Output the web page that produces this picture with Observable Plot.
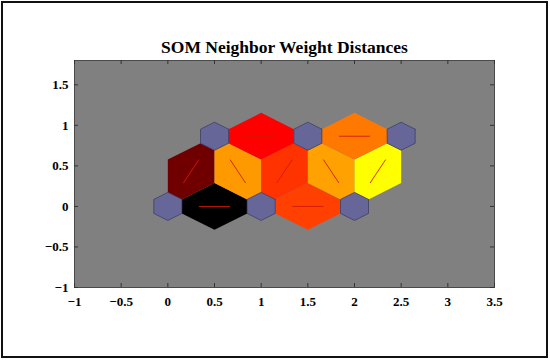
<!DOCTYPE html>
<html><head><meta charset="utf-8">
<script src="https://cdn.jsdelivr.net/npm/d3@7"></script>
<script src="https://cdn.jsdelivr.net/npm/@observablehq/plot@0.6"></script>
<style>
html,body{margin:0;padding:0;background:#fff;}
#wrap{position:relative;width:550px;height:360px;overflow:hidden;}
#wrap svg{display:block;}
#border{position:absolute;left:1px;top:1px;width:543px;height:353px;border:2px solid #111;pointer-events:none;}
</style></head><body>
<div id="wrap"></div>
<script>
// Neuron positions (hextop 3x2)
const neuronX = [0, 1, 2, 0.5, 1.5, 2.5];
const neuronY = [0, 0, 0, 0.866, 0.866, 0.866];
// Neighbor pairs and their (normalized) weight distances
const pairFrom = [0, 1, 0, 1, 1, 2, 2, 3, 4];
const pairTo   = [1, 2, 3, 3, 4, 4, 5, 4, 5];
const distances = [1.0, 0.375, 0.78, 0.2, 0.4, 0.185, 0.0, 0.5, 0.265];
const xTicks = [-1, -0.5, 0, 0.5, 1, 1.5, 2, 2.5, 3, 3.5];
const yTicks = [-1, -0.5, 0, 0.5, 1, 1.5];
const title = "SOM Neighbor Weight Distances";

const K = 0.3, R = 1 / Math.sqrt(3);
const cells = [], links = [], hexes = [];
pairFrom.forEach((a, i) => {
  const b = pairTo[i];
  const ax = neuronX[a], ay = neuronY[a], bx = neuronX[b], by = neuronY[b];
  const dx = bx - ax, dy = by - ay, L = Math.hypot(dx, dy);
  const ux = dx / L, uy = dy / L, px = -uy, py = ux;
  const mx = (ax + bx) / 2, my = (ay + by) / 2, h = L * R / 2;
  const v1 = [mx + px * h, my + py * h], v2 = [mx - px * h, my - py * h];
  const pts = [
    [ax + K * (v1[0] - ax), ay + K * (v1[1] - ay)], v1,
    [bx + K * (v1[0] - bx), by + K * (v1[1] - by)],
    [bx + K * (v2[0] - bx), by + K * (v2[1] - by)], v2,
    [ax + K * (v2[0] - ax), ay + K * (v2[1] - ay)]
  ];
  pts.push(pts[0]);
  pts.forEach(p => cells.push({id: i, x: p[0], y: p[1], d: distances[i]}));
  links.push({x1: mx - ux * L / 6, y1: my - uy * L / 6, x2: mx + ux * L / 6, y2: my + uy * L / 6});
});
neuronX.forEach((nx, i) => {
  for (let j = 0; j <= 6; j++) {
    const ang = (30 + 60 * j) * Math.PI / 180;
    hexes.push({id: i, x: nx + K * R * Math.cos(ang), y: neuronY[i] + K * R * Math.sin(ang)});
  }
});

const fmt = d => (d < 0 ? "\u2212" : "") + Math.abs(d);
const W = 550, H = 360, mL = 74, mR = 56, mT = 60, mB = 73;
const fw = W - mL - mR, fh = H - mT - mB;

const chart = Plot.plot({
  width: W, height: H,
  marginLeft: mL, marginRight: mR, marginTop: mT, marginBottom: mB,
  x: {domain: [-1, 3.5]},
  y: {domain: [-1, 1.8]},
  color: {type: "linear", domain: [0, 0.5, 1], range: ["#ffff00", "#ff0000", "#000000"]},
  style: {fontFamily: "'Liberation Serif','Times New Roman',serif", fontSize: "13px", fontWeight: "bold", color: "#000", background: "transparent"},
  marks: [
    Plot.frame({fill: "#808080"}),
    Plot.line(cells, {x: "x", y: "y", z: "id", fill: "d", stroke: "none"}),
    Plot.line(hexes, {x: "x", y: "y", z: "id", fill: "#666699", stroke: "#3f3f66", strokeWidth: 0.8}),
    Plot.link(links, {x1: "x1", y1: "y1", x2: "x2", y2: "y2", stroke: "#d41a00", strokeWidth: 0.9}),
    Plot.frame({stroke: "#4a4a4a", strokeWidth: 1}),
    Plot.tickX(xTicks, {x: d => d, insetTop: fh - 4, stroke: "#333"}),
    Plot.tickX(xTicks, {x: d => d, insetBottom: fh - 4, stroke: "#333"}),
    Plot.tickY(yTicks, {y: d => d, insetRight: fw - 4, stroke: "#333"}),
    Plot.tickY(yTicks, {y: d => d, insetLeft: fw - 4, stroke: "#333"}),
    Plot.axisX({ticks: xTicks, tickSize: 0, tickPadding: 9, tickFormat: fmt, label: null}),
    Plot.axisY({ticks: yTicks, tickSize: 0, tickPadding: 6, tickFormat: fmt, label: null}),
    Plot.text([title], {frameAnchor: "top", lineAnchor: "bottom", dy: -8, fontSize: 17.5, fontWeight: "bold", fill: "#000"})
  ]
});
const wrap = document.getElementById("wrap");
wrap.appendChild(chart);
const border = document.createElement("div");
border.id = "border";
wrap.appendChild(border);
</script>
</body></html>
